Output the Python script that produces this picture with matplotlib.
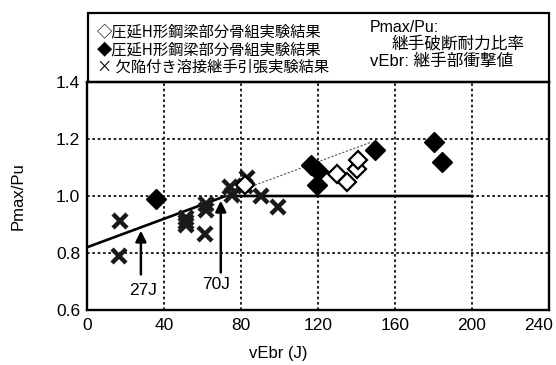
import matplotlib
matplotlib.use("Agg")
import matplotlib.pyplot as plt
from matplotlib.patches import Rectangle
from matplotlib.transforms import ScaledTranslation

plt.rcParams['font.family'] = ['Liberation Sans', 'Noto Sans CJK JP', 'DejaVu Sans']

# 欠陥付き溶接継手引張実験結果 (x)
cross_x = [17.1, 16.8, 51.5, 51.5, 51.5, 62.0, 62.0, 61.5, 74.3, 75.5, 83.0, 82.0, 90.5, 99.0]
cross_y = [0.913, 0.789, 0.922, 0.910, 0.900, 0.972, 0.951, 0.867, 1.030, 1.004, 1.062, 1.035, 1.000, 0.962]

# 圧延H形鋼梁部分骨組実験結果 (open)
open_x = [82.0, 129.7, 135.0, 140.0, 141.0]
open_y = [1.040, 1.078, 1.048, 1.095, 1.128]

# 圧延H形鋼梁部分骨組実験結果 (filled)
fill_x = [35.8, 116.5, 120.0, 119.3, 149.6, 180.0, 184.3]
fill_y = [0.989, 1.110, 1.088, 1.040, 1.163, 1.190, 1.120]

# design line
line_x = [0, 72, 200]
line_y = [0.82, 1.0, 1.0]
ext_x = [72, 148]
ext_y = [1.0, 1.19]

fig = plt.figure(figsize=(5.56, 3.65), dpi=100)
ax = fig.add_axes([87/556, 1 - 310/365, 462/556, 228/365])

ax.set_xlim(0, 240)
ax.set_ylim(0.6, 1.4)
ax.set_xticks([0, 40, 80, 120, 160, 200, 240])
ax.set_yticks([0.6, 0.8, 1.0, 1.2, 1.4])
ax.set_yticklabels(['0.6', '0.8', '1.0', '1.2', '1.4'])
ax.tick_params(length=0, labelsize=12.5, pad=5)
ax.tick_params(axis='x', pad=6)
# the last x label sits slightly inward in the original
lbl = ax.get_xticklabels()[-1]
lbl.set_transform(lbl.get_transform() + ScaledTranslation(-10/100, 0, fig.dpi_scale_trans))
ax.grid(True, color='black', linestyle=(0, (1.6, 1.6)), linewidth=1.2)
for s in ax.spines.values():
    s.set_linewidth(1.7)

ax.plot(line_x, line_y, color='black', lw=1.9, zorder=3)
ax.plot(ext_x, ext_y, color='#555555', lw=0.8, linestyle=(0, (2, 1.5)), zorder=3)

ax.plot(cross_x, cross_y, 'x', color='#1a1a1a', ms=10, mew=3.2, zorder=4)
ax.plot(open_x, open_y, 'D', mfc='white', mec='black', ms=9.5, mew=1.6, zorder=5)
ax.plot(fill_x, fill_y, 'D', color='black', ms=10.5, zorder=5)

ax.annotate('', xy=(28, 0.888), xytext=(28, 0.715),
            arrowprops=dict(arrowstyle='-|>', lw=1.8, color='black', mutation_scale=16))
ax.annotate('', xy=(69.5, 0.993), xytext=(69.5, 0.722),
            arrowprops=dict(arrowstyle='-|>', lw=1.8, color='black', mutation_scale=16))
ax.text(29, 0.668, '27J', ha='center', va='center', fontsize=12.5)
ax.text(67, 0.688, '70J', ha='center', va='center', fontsize=12.5)

ax.set_xlabel('vEbr (J)', fontsize=12)
ax.xaxis.set_label_coords(191/462, -36/228)
ax.set_ylabel('Pmax/Pu', fontsize=12)
ax.yaxis.set_label_coords(-61/462, 0.5)

# legend box above the axes
fig.patches.append(Rectangle((88/556, 1 - 82/365), 461/556, 69/365, transform=fig.transFigure,
                             fill=False, lw=1.6, ec='black'))
leg_lines = ['◇圧延H形鋼梁部分骨組実験結果', '◆圧延H形鋼梁部分骨組実験結果', '× 欠陥付き溶接継手引張実験結果']
for i, t in enumerate(leg_lines):
    fig.text(97/556, 1 - (32 + 17.5 * i)/365, t, fontsize=11, va='center', ha='left',
             family=['Noto Sans CJK JP', 'DejaVu Sans'])
fig.text(370/556, 1 - 27/365, 'Pmax/Pu:', fontsize=11.5, va='center', ha='left')
fig.text(392/556, 1 - 44/365, '継手破断耐力比率', fontsize=12, va='center', ha='left')
fig.text(370/556, 1 - 61/365, 'vEbr: 継手部衝撃値', fontsize=12, va='center', ha='left')

fig.savefig('out.png', dpi=100)
